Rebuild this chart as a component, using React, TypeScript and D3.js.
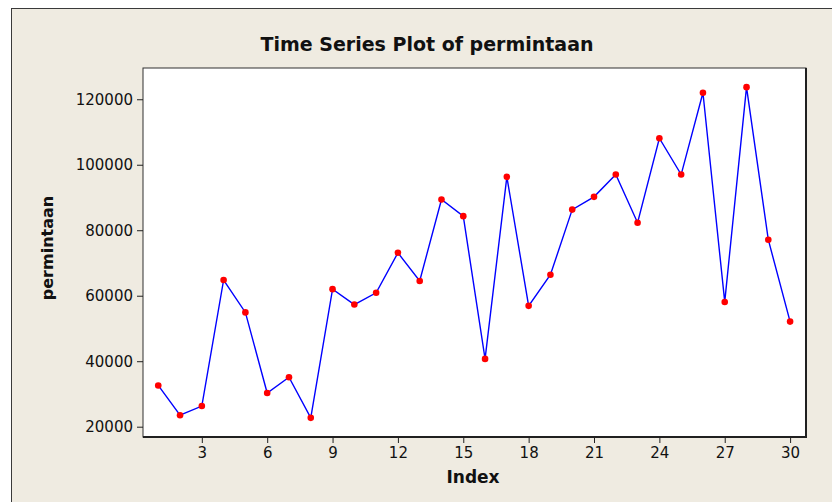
import { useEffect, useRef } from "react";
import * as d3 from "d3";

const indexValues = d3.range(1, 31);
const permintaan = [
  32600, 23500, 26300, 64800, 54900, 30300, 35100, 22700, 62000, 57300,
  60900, 73100, 64500, 89400, 84300, 40700, 96300, 56900, 66400, 86300,
  90200, 97000, 82300, 108100, 97000, 122000, 58100, 123700, 77100, 52100,
];
const xTicks = [3, 6, 9, 12, 15, 18, 21, 24, 27, 30];
const yTicks = [20000, 40000, 60000, 80000, 100000, 120000];

const W = 832;
const H = 502;

export default function App() {
  const svgRef = useRef<SVGSVGElement>(null);

  useEffect(() => {
    if (!svgRef.current) return;
    const svg = d3.select(svgRef.current);
    svg.selectAll("*").remove();

    const font = "DejaVu Sans, Verdana, sans-serif";
    const plot = { left: 143, top: 68, right: 806, bottom: 437 };

    // outer panel
    svg.append("rect").attr("width", W).attr("height", H).attr("fill", "#ffffff");
    svg
      .append("rect")
      .attr("x", 11.5)
      .attr("y", 8.5)
      .attr("width", W)
      .attr("height", H)
      .attr("fill", "#efebe1")
      .attr("stroke", "#3a3a3a")
      .attr("stroke-width", 1);

    const x = d3.scaleLinear().domain([0.3, 30.73]).range([plot.left, plot.right]);
    const y = d3.scaleLinear().domain([16854, 129544]).range([plot.bottom, plot.top]);

    // plot area
    svg
      .append("rect")
      .attr("x", plot.left)
      .attr("y", plot.top)
      .attr("width", plot.right - plot.left)
      .attr("height", plot.bottom - plot.top)
      .attr("fill", "#ffffff")
      .attr("stroke", "#303030")
      .attr("stroke-width", 1);
    // heavier right & bottom edges
    svg
      .append("path")
      .attr("d", `M${plot.right},${plot.top}V${plot.bottom}H${plot.left}`)
      .attr("fill", "none")
      .attr("stroke", "#202020")
      .attr("stroke-width", 2);

    // Y axis
    svg
      .append("g")
      .attr("transform", `translate(${plot.left},0)`)
      .call(d3.axisLeft(y).tickValues(yTicks).tickSize(6).tickPadding(4).tickFormat(d3.format("d")))
      .call((g) => g.select(".domain").remove())
      .call((g) => g.selectAll(".tick line").attr("stroke", "#202020"))
      .call((g) =>
        g
          .selectAll("text")
          .attr("fill", "#111")
          .attr("font-family", font)
          .attr("font-size", "15px")
      );

    // X axis
    svg
      .append("g")
      .attr("transform", `translate(0,${plot.bottom})`)
      .call(d3.axisBottom(x).tickValues(xTicks).tickSize(6).tickPadding(4).tickFormat(d3.format("d")))
      .call((g) => g.select(".domain").remove())
      .call((g) => g.selectAll(".tick line").attr("stroke", "#202020"))
      .call((g) =>
        g
          .selectAll("text")
          .attr("fill", "#111")
          .attr("font-family", font)
          .attr("font-size", "15px")
      );

    // Title and axis labels
    svg
      .append("text")
      .attr("x", 427)
      .attr("y", 51)
      .attr("text-anchor", "middle")
      .attr("font-family", font)
      .attr("font-weight", "bold")
      .attr("font-size", "19px")
      .attr("fill", "#111")
      .text("Time Series Plot of permintaan");

    svg
      .append("text")
      .attr("x", 473)
      .attr("y", 483)
      .attr("text-anchor", "middle")
      .attr("font-family", font)
      .attr("font-weight", "bold")
      .attr("font-size", "17px")
      .attr("fill", "#111")
      .text("Index");

    svg
      .append("text")
      .attr("transform", "translate(53,248) rotate(-90)")
      .attr("text-anchor", "middle")
      .attr("font-family", font)
      .attr("font-weight", "bold")
      .attr("font-size", "16px")
      .attr("fill", "#111")
      .text("permintaan");

    const data = indexValues.map((i, k) => ({ i, v: permintaan[k] }));

    const line = d3
      .line<{ i: number; v: number }>()
      .x((d) => x(d.i))
      .y((d) => y(d.v));

    svg
      .append("path")
      .datum(data)
      .attr("d", line)
      .attr("fill", "none")
      .attr("stroke", "#0000ff")
      .attr("stroke-width", 1.4);

    svg
      .append("g")
      .selectAll("circle")
      .data(data)
      .enter()
      .append("circle")
      .attr("cx", (d) => x(d.i))
      .attr("cy", (d) => y(d.v))
      .attr("r", 3.3)
      .attr("fill", "#ff0000");
  }, []);

  return (
    <svg
      ref={svgRef}
      width={W}
      height={H}
      style={{ position: "absolute", left: 0, top: 0 }}
      role="img"
      aria-label="Time series plot of permintaan"
    />
  );
}
